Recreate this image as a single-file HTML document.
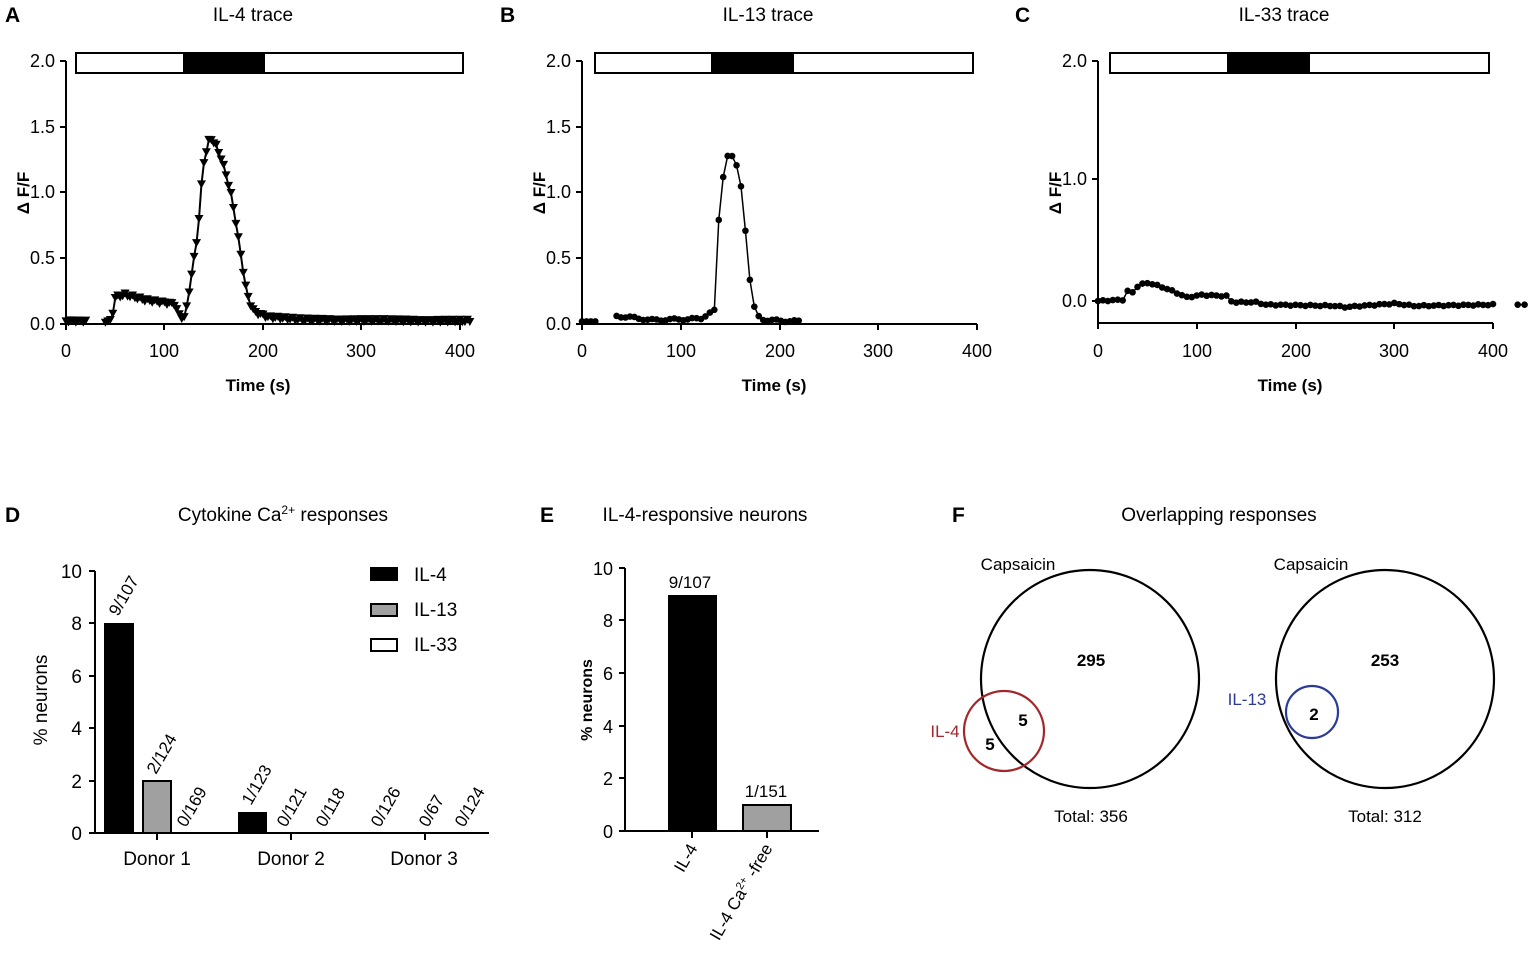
<!DOCTYPE html>
<html><head><meta charset="utf-8"><style>
body{margin:0;background:#fff;}
svg{display:block;font-family:"Liberation Sans",Arial,sans-serif;}
.t{font-size:19px;}
.tk{font-size:18px;}
.pl{font-size:21px;font-weight:bold;}
.ax{font-size:17px;font-weight:bold;}
</style></head><body>
<svg id="s" width="1535" height="956" viewBox="0 0 1535 956" xmlns="http://www.w3.org/2000/svg">
<g stroke="#000" stroke-width="2" fill="none">
<path d="M66,61V324H463"/>
<path d="M60,61H66M60,127H66M60,192H66M60,258H66M60,324H66"/>
<path d="M66,324v6M164,324v6M263,324v6M361,324v6M460,324v6"/>
<rect x="76" y="53" width="387" height="20"/>
<path d="M582,61V324H977"/>
<path d="M576,61H582M576,127H582M576,192H582M576,258H582M576,324H582"/>
<path d="M582,324v6M681,324v6M780,324v6M878,324v6M977,324v6"/>
<rect x="595" y="53" width="378" height="20"/>
<path d="M1098,61V323H1493"/>
<path d="M1092,61H1098M1092,179H1098M1092,301H1098"/>
<path d="M1098,323v6M1197,323v6M1296,323v6M1394,323v6M1493,323v6"/>
<rect x="1110" y="53" width="379" height="20"/>
</g>
<rect x="183" y="53" width="82" height="20"/>
<rect x="711" y="53" width="83" height="20"/>
<rect x="1227" y="53" width="83" height="20"/>
<g class="pl"><text x="5" y="22">A</text><text x="500" y="22">B</text><text x="1015" y="22">C</text>
<text x="5" y="522">D</text><text x="540" y="522">E</text><text x="952" y="522">F</text></g>
<g class="t" text-anchor="middle"><text x="253" y="21">IL-4 trace</text><text x="768" y="21">IL-13 trace</text><text x="1284" y="21">IL-33 trace</text>
<text x="283" y="521">Cytokine Ca<tspan font-size="12" dy="-7">2+</tspan><tspan dy="7"> responses</tspan></text>
<text x="705" y="521">IL-4-responsive neurons</text><text x="1219" y="521">Overlapping responses</text></g>
<g class="tk" text-anchor="end">
<text x="55" y="67">2.0</text><text x="55" y="133">1.5</text><text x="55" y="198">1.0</text><text x="55" y="264">0.5</text><text x="55" y="330">0.0</text>
<text x="571" y="67">2.0</text><text x="571" y="133">1.5</text><text x="571" y="198">1.0</text><text x="571" y="264">0.5</text><text x="571" y="330">0.0</text>
<text x="1087" y="67">2.0</text><text x="1087" y="185">1.0</text><text x="1087" y="307">0.0</text>
</g>
<g class="tk" text-anchor="middle">
<text x="66" y="357">0</text><text x="164" y="357">100</text><text x="263" y="357">200</text><text x="361" y="357">300</text><text x="460" y="357">400</text>
<text x="582" y="357">0</text><text x="681" y="357">100</text><text x="780" y="357">200</text><text x="878" y="357">300</text><text x="977" y="357">400</text>
<text x="1098" y="357">0</text><text x="1197" y="357">100</text><text x="1296" y="357">200</text><text x="1394" y="357">300</text><text x="1493" y="357">400</text>
</g>
<g class="ax" text-anchor="middle"><text x="258" y="391">Time (s)</text><text x="774" y="391">Time (s)</text><text x="1290" y="391">Time (s)</text>
<text transform="translate(29,193) rotate(-90)">Δ F/F</text><text transform="translate(545,193) rotate(-90)">Δ F/F</text><text transform="translate(1061,193) rotate(-90)">Δ F/F</text>
<text transform="translate(592,700) rotate(-90)" font-size="16">% neurons</text></g>
<g id="traces"></g>

<g stroke="#000" stroke-width="2" fill="none">
<path d="M95,571V833H489"/>
<path d="M89,571H95M89,623H95M89,676H95M89,728H95M89,781H95M89,833H95"/>
<path d="M157,833v7M291,833v7M425,833v7"/>
<rect x="105" y="624" width="28" height="209" fill="#000"/>
<rect x="143" y="781" width="28" height="52" fill="#a0a0a0"/>
<rect x="239" y="813" width="27" height="20" fill="#000"/>
<rect x="371" y="568" width="26" height="12" fill="#000"/>
<rect x="371" y="604" width="26" height="12" fill="#a0a0a0"/>
<rect x="371" y="639" width="26" height="12" fill="#fff"/>
</g>
<g class="tk" text-anchor="end" style="font-size:19px"><text x="82" y="578">10</text><text x="82" y="630">8</text><text x="82" y="683">6</text><text x="82" y="735">4</text><text x="82" y="788">2</text><text x="82" y="840">0</text></g>
<g style="font-size:19px"><text x="414" y="581">IL-4</text><text x="414" y="616">IL-13</text><text x="414" y="651">IL-33</text></g>
<text transform="translate(47,700) rotate(-90)" text-anchor="middle" style="font-size:19px">% neurons</text>
<g class="t" text-anchor="middle"><text x="157" y="865">Donor 1</text><text x="291" y="865">Donor 2</text><text x="424" y="865">Donor 3</text></g>
<g style="font-size:17px">
<text transform="translate(118,617) rotate(-60)">9/107</text>
<text transform="translate(156,775) rotate(-60)">2/124</text>
<text transform="translate(186,828) rotate(-60)">0/169</text>
<text transform="translate(251,806) rotate(-60)">1/123</text>
<text transform="translate(286,828) rotate(-60)">0/121</text>
<text transform="translate(325,828) rotate(-60)">0/118</text>
<text transform="translate(380,828) rotate(-60)">0/126</text>
<text transform="translate(428,828) rotate(-60)">0/67</text>
<text transform="translate(464,828) rotate(-60)">0/124</text>
</g>

<g stroke="#000" stroke-width="2" fill="none">
<path d="M625,568V831H819"/>
<path d="M619,568H625M619,620H625M619,673H625M619,726H625M619,778H625M619,831H625"/>
<path d="M692,831v7M767,831v7"/>
<rect x="669" y="596" width="47" height="235" fill="#000"/>
<rect x="743" y="805" width="48" height="26" fill="#a0a0a0"/>
</g>
<g class="tk" text-anchor="end"><text x="613" y="575">10</text><text x="613" y="627">8</text><text x="613" y="680">6</text><text x="613" y="733">4</text><text x="613" y="785">2</text><text x="613" y="838">0</text></g>
<g style="font-size:17px" text-anchor="middle"><text x="690" y="588">9/107</text><text x="766" y="797">1/151</text></g>
<g style="font-size:17px" text-anchor="end"><text transform="translate(698,848) rotate(-60)">IL-4</text>
<text transform="translate(773,848) rotate(-60)">IL-4 Ca<tspan font-size="11" dy="-6">2+</tspan><tspan dy="6"> -free</tspan></text></g>

<g fill="none" stroke-width="2.2">
<circle cx="1090" cy="679" r="109" stroke="#000"/>
<circle cx="1004" cy="731" r="40" stroke="#a3262a"/>
<circle cx="1385" cy="679" r="109" stroke="#000"/>
<circle cx="1312" cy="712" r="26" stroke="#2b3a96"/>
</g>
<g style="font-size:17px" text-anchor="middle">
<text x="1018" y="570">Capsaicin</text><text x="1311" y="570">Capsaicin</text>
<text x="1091" y="822">Total: 356</text><text x="1385" y="822">Total: 312</text>
<text x="945" y="737" fill="#a3262a">IL-4</text><text x="1247" y="705" fill="#2b3a96">IL-13</text>
<g font-weight="bold"><text x="1091" y="666">295</text><text x="1385" y="666">253</text><text x="1023" y="726">5</text><text x="990" y="750">5</text><text x="1314" y="720">2</text></g>
</g>
</svg>
<script>
var NS="http://www.w3.org/2000/svg",g=document.getElementById("traces");
function el(n,a){var e=document.createElementNS(NS,n);for(var k in a)e.setAttribute(k,a[k]);g.appendChild(e);return e;}
function interp(k,t){for(var i=0;i<k.length-1;i++){if(t>=k[i][0]&&t<=k[i+1][0]){var f=(t-k[i][0])/(k[i+1][0]-k[i][0]);return k[i][1]+f*(k[i+1][1]-k[i][1]);}}return k[k.length-1][1];}
function trace(x0,sx,y0,sy,segs,step,mk){
 segs.forEach(function(s){var pts=[];for(var t=s[0];t<=s[1]+0.01;t+=step){var v=interp(s[2],t)+(s[3]?(Math.sin(t*1.7)*s[3]):0);pts.push([x0+t*sx,y0-v*sy]);}
 el("polyline",{points:pts.map(function(p){return p.join(",")}).join(" "),fill:"none",stroke:"#000","stroke-width":mk=="c"?1.5:2});
 pts.forEach(function(p){if(mk=="t")el("path",{d:"M"+(p[0]-4.5)+","+(p[1]-4)+"h9l-4.5,8z",fill:"#000"});else el("circle",{cx:p[0],cy:p[1],r:3.3,fill:"#000"});});});
}
trace(66,0.985,324,131.5,[[0,22,[[0,0.02],[22,0.02]],0.01],[40,410,[[40,0.02],[46,0.02],[50,0.2],[60,0.22],[80,0.18],[110,0.15],[116,0.05],[121,0.05],[124,0.2],[129,0.45],[134,0.7],[139,1.2],[146,1.42],[152,1.36],[158,1.25],[163,1.12],[168,0.97],[173,0.75],[178,0.5],[182,0.3],[186,0.17],[191,0.09],[205,0.05],[240,0.03],[410,0.02]],0.012]],2.5,"t");
trace(582,0.9875,324,131.5,[[0,15,[[0,0.02],[15,0.02]],0],[35,220,[[35,0.06],[50,0.05],[70,0.03],[120,0.04],[128,0.08],[134,0.1],[140,1.02],[148,1.3],[155,1.25],[161,1.05],[166,0.68],[171,0.25],[176,0.07],[185,0.03],[220,0.02]],0.008]],4.5,"c");
trace(1098,0.9875,301,122,[[0,400,[[0,0],[25,0.01],[28,0.1],[33,0.05],[40,0.12],[48,0.15],[55,0.14],[70,0.1],[90,0.03],[105,0.05],[130,0.04],[136,-0.01],[160,-0.01],[170,-0.03],[240,-0.04],[250,-0.05],[300,-0.02],[320,-0.04],[400,-0.03]],0.005]],5,"c");
trace(1098,0.9875,301,122,[[425,432,[[425,-0.03],[432,-0.03]],0]],7,"c");
</script>
</body></html>
